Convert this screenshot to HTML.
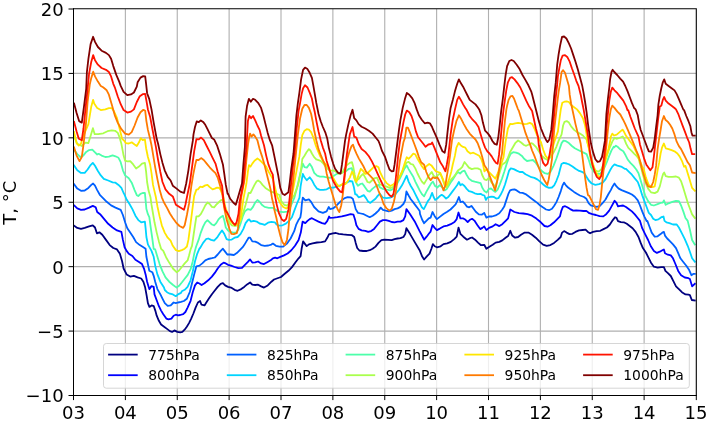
<!DOCTYPE html><html><head><meta charset="utf-8"><title>T, °C</title>
<style>html,body{margin:0;padding:0;background:#fff}svg{display:block}text{font-family:"DejaVu Sans","Liberation Sans",sans-serif;fill:#000}</style></head><body>
<svg width="708" height="422" viewBox="0 0 708 422">
<rect width="708" height="422" fill="#fff"/>
<path d="M125.38 9.0V395.5M177.25 9.0V395.5M229.12 9.0V395.5M281.00 9.0V395.5M332.88 9.0V395.5M384.75 9.0V395.5M436.62 9.0V395.5M488.50 9.0V395.5M540.38 9.0V395.5M592.25 9.0V395.5M644.12 9.0V395.5M73.5 73.42H696.0M73.5 137.83H696.0M73.5 202.25H696.0M73.5 266.67H696.0M73.5 331.08H696.0" stroke="#b0b0b0" stroke-width="1.11" fill="none"/>
<defs><clipPath id="c"><rect x="73.5" y="9.0" width="622.5" height="386.5"/></clipPath></defs>
<g clip-path="url(#c)" fill="none" stroke-width="1.8" stroke-linejoin="round" stroke-linecap="square">
<polyline stroke="#000080" points="74.1,225.7 77.3,227.9 81.0,228.9 84.7,227.9 89.1,226.4 92.8,225.3 95.0,227.5 96.9,233.3 99.4,232.3 102.3,234.8 106.0,239.9 109.7,245.1 113.3,248.0 117.0,249.4 119.9,253.8 122.1,261.2 123.6,268.5 126.6,274.4 130.2,276.6 133.9,275.8 137.6,277.3 141.2,278.5 143.4,281.7 145.2,287.6 146.7,295.9 147.9,303.2 149.4,306.9 151.6,305.4 153.8,306.2 155.3,310.6 156.7,315.7 158.9,320.8 161.1,324.5 164.1,326.7 167.0,328.9 169.9,331.1 172.1,331.9 174.4,330.4 177.3,331.9 180.2,332.3 182.4,331.9 184.6,329.7 186.8,326.7 189.0,323.1 191.2,318.6 193.4,313.5 195.6,307.6 197.9,302.5 200.1,301.0 201.5,304.7 204.5,305.4 206.0,303.0 208.9,298.6 211.9,294.2 214.8,290.5 217.7,286.9 220.7,283.9 222.9,283.2 225.1,285.4 228.0,286.9 231.0,287.6 234.6,289.8 237.6,290.8 241.2,289.1 244.2,286.9 247.1,284.4 250.1,282.5 252.3,284.7 255.2,285.0 258.1,284.7 261.1,286.4 264.0,287.6 267.7,285.4 271.4,281.7 274.0,279.5 281.0,277.0 284.7,273.8 288.4,270.8 292.0,267.1 295.7,262.0 298.6,258.3 300.6,256.1 301.6,248.8 303.1,241.4 305.3,244.4 306.7,246.1 308.9,244.4 312.6,243.4 317.0,242.5 321.4,242.2 325.1,241.4 327.3,237.8 329.1,234.1 330.0,234.1 332.9,233.3 335.9,233.0 338.8,233.8 343.2,234.4 347.6,234.8 352.0,235.2 354.2,237.0 355.7,242.9 357.2,248.0 359.4,250.5 363.1,251.0 366.7,251.0 369.7,250.2 372.6,248.8 375.5,246.6 378.5,242.9 381.4,240.2 384.4,239.6 388.0,239.9 391.7,240.2 394.6,239.2 397.6,238.5 400.5,238.2 403.4,237.0 405.2,234.1 406.4,228.2 410.1,234.1 415.2,242.9 419.6,250.2 422.2,256.6 424.1,259.5 426.6,256.6 429.5,253.6 431.5,248.5 432.9,244.1 434.7,246.3 436.9,247.3 440.6,246.3 443.5,244.1 447.2,243.3 450.8,241.9 454.5,238.9 456.7,236.7 458.5,227.6 460.4,233.8 463.3,236.7 467.0,239.7 469.9,238.2 472.1,237.5 475.1,239.7 478.0,242.6 481.0,245.2 484.2,244.8 486.4,248.8 489.0,247.0 492.7,244.8 495.6,242.6 499.3,241.9 502.3,240.4 505.9,237.5 508.1,236.0 510.3,230.8 512.2,235.5 515.1,237.7 518.1,237.0 521.0,234.8 524.7,232.6 528.4,232.6 532.0,234.8 535.7,237.7 539.4,241.4 543.1,244.6 546.7,245.8 550.4,245.1 554.1,242.9 557.7,239.9 560.7,237.0 562.1,232.6 564.1,231.1 566.6,232.6 569.5,234.1 572.4,233.8 575.4,231.9 579.0,230.4 582.7,230.0 585.6,229.7 587.9,231.9 590.1,233.3 593.0,231.9 596.7,231.1 600.3,230.8 604.0,228.9 606.9,227.5 609.9,224.5 612.8,220.1 615.0,217.2 616.5,217.9 618.0,221.2 620.9,222.1 623.8,222.3 626.8,223.8 629.7,226.0 632.6,228.2 635.6,231.9 638.5,237.0 640.7,242.9 642.9,248.1 645.9,252.5 648.1,256.9 651.0,262.7 653.9,266.7 657.6,267.6 661.3,267.2 663.9,267.2 665.4,270.9 667.9,273.1 670.8,276.0 673.0,280.4 676.0,286.3 678.9,289.2 681.9,292.2 685.5,294.4 688.5,294.7 689.9,295.1 691.8,300.0 694.8,300.5"/>
<polyline stroke="#0000ff" points="74.1,205.4 77.3,208.4 81.0,209.8 84.7,209.5 89.1,207.6 92.8,205.9 95.7,207.3 97.2,212.0 100.1,214.2 103.8,218.6 108.2,223.8 112.6,227.5 117.0,230.4 121.4,231.9 122.9,239.9 124.6,247.3 126.6,250.9 128.8,253.8 132.4,256.0 135.4,259.7 139.0,261.9 142.0,264.1 144.2,269.2 145.6,274.4 147.1,281.7 149.3,289.1 151.5,286.1 153.7,286.9 154.5,294.4 156.7,300.3 158.9,306.2 161.1,310.6 163.3,314.2 166.3,318.6 168.5,319.4 171.4,318.6 173.6,315.7 175.8,314.7 178.0,315.3 180.2,315.0 183.2,314.2 185.4,312.0 187.6,307.6 190.6,300.8 192.8,292.0 195.0,285.4 197.2,282.5 199.4,283.5 201.6,285.0 204.5,283.2 208.2,280.3 211.9,276.6 214.8,272.9 217.7,268.5 220.7,264.8 223.6,262.6 225.8,263.4 228.0,264.8 231.0,265.6 234.6,267.0 238.3,268.1 242.0,267.8 244.9,264.8 247.9,261.9 250.1,259.4 252.3,262.6 255.2,262.3 258.1,261.5 261.1,263.4 264.0,264.1 267.7,261.9 271.4,259.7 272.9,258.3 275.1,257.6 277.3,258.3 280.3,256.9 284.0,255.4 287.6,253.5 291.3,250.3 295.0,245.8 298.6,240.0 300.8,232.6 302.6,221.6 305.3,223.1 307.5,220.9 309.7,219.1 311.9,218.2 314.8,219.7 318.5,221.6 322.1,223.1 325.1,223.8 327.3,220.9 329.1,216.5 330.0,217.9 333.7,217.6 337.3,217.2 341.8,216.4 346.2,215.3 350.6,214.2 353.5,214.7 355.0,219.4 356.4,225.3 358.6,228.9 361.6,230.4 365.3,230.8 368.2,231.9 371.1,231.1 374.1,228.9 377.0,225.3 379.9,221.6 382.9,220.1 385.8,220.1 388.8,220.8 391.7,222.0 394.6,222.3 397.6,221.6 400.5,221.6 403.4,220.1 405.2,216.4 406.4,209.1 410.1,214.2 415.2,222.3 419.6,231.1 422.2,236.0 424.1,239.7 426.6,236.7 428.8,233.8 430.6,231.6 432.5,225.0 434.7,227.9 436.9,230.1 439.8,228.6 443.5,226.4 447.2,225.7 450.8,224.2 454.5,222.0 456.7,219.1 458.5,212.5 460.4,218.4 463.3,218.4 465.5,219.8 467.7,222.0 469.9,219.8 472.1,218.8 474.4,220.6 477.3,225.0 480.2,229.1 482.4,227.9 484.2,226.4 486.4,230.1 489.0,227.9 492.7,226.4 495.6,224.2 499.3,226.1 502.3,224.2 505.9,220.6 508.1,218.4 510.3,209.5 514.4,212.0 518.8,213.2 523.2,213.5 527.6,214.2 532.0,215.7 536.4,218.6 540.8,222.3 544.5,226.0 547.5,226.7 550.4,225.3 554.1,222.3 557.0,219.4 559.9,216.4 561.4,210.6 562.9,206.9 565.1,206.2 567.3,207.3 570.2,209.1 573.2,210.6 576.1,210.3 579.8,210.6 583.4,211.0 586.4,210.9 589.3,213.2 592.3,214.2 595.9,215.0 599.6,216.1 603.3,216.4 606.2,214.2 609.2,210.6 612.1,205.4 614.6,200.8 616.5,202.9 618.0,206.3 620.2,205.8 623.1,205.5 626.0,207.0 629.0,209.2 631.9,211.4 634.8,214.4 637.1,217.3 640.0,220.9 642.2,228.2 645.1,234.1 648.1,240.0 651.0,246.6 653.9,251.0 656.9,252.9 659.8,251.7 662.8,250.0 663.9,249.5 665.0,253.2 667.9,254.7 670.8,255.4 673.0,258.3 675.2,263.5 678.2,270.9 681.1,275.3 684.8,277.5 688.5,278.2 689.9,279.0 692.1,286.3 694.8,283.8"/>
<polyline stroke="#0060ff" points="74.1,184.2 77.3,188.6 81.0,190.8 84.7,190.5 88.4,187.9 91.3,184.9 93.1,183.5 95.0,185.7 97.2,190.1 100.1,195.2 102.3,197.3 106.7,201.8 111.1,205.4 115.5,207.6 120.7,209.8 122.9,215.0 125.1,222.3 127.3,228.2 130.2,232.6 133.2,237.0 136.1,242.1 139.8,245.1 143.4,247.3 145.6,248.8 146.4,256.8 147.9,264.1 149.3,270.7 152.3,272.2 153.7,275.8 155.2,281.7 157.4,289.1 160.4,294.4 162.6,298.8 164.8,303.2 167.7,305.9 170.7,305.4 173.6,302.5 175.8,303.2 178.0,302.5 181.0,301.8 183.9,301.0 186.8,298.8 189.8,292.0 192.0,283.2 194.2,274.4 196.4,266.3 199.4,265.6 202.3,263.4 205.3,260.4 208.2,259.0 211.9,258.2 214.8,257.5 217.7,254.5 220.7,250.9 222.9,248.7 225.1,251.6 227.3,254.5 230.2,254.5 233.9,255.0 236.8,253.1 239.8,250.1 242.7,247.2 244.2,245.1 246.4,241.4 248.6,237.7 250.1,237.7 252.3,241.4 255.2,241.7 258.1,242.9 261.1,245.1 264.7,245.8 268.4,245.5 271.4,244.6 272.9,243.6 275.9,245.8 279.5,246.6 283.2,246.6 286.9,243.6 290.6,238.5 294.2,231.2 296.1,224.9 298.7,219.7 300.4,217.2 301.2,212.1 301.9,203.5 302.8,197.6 305.3,200.4 308.9,199.4 311.1,201.9 314.1,207.0 318.5,211.4 322.9,212.9 326.6,211.4 328.8,207.0 330.0,209.1 332.9,208.4 335.9,206.2 338.8,203.2 341.8,200.3 344.7,198.1 347.6,197.1 350.6,197.3 352.8,198.8 354.2,203.2 355.7,209.1 357.9,212.8 360.8,213.5 363.8,214.2 366.7,215.7 369.7,217.2 372.6,215.7 375.5,213.5 378.5,210.6 380.7,207.6 382.9,209.8 385.8,210.6 388.8,211.3 391.7,210.6 394.6,209.1 397.6,208.4 400.5,206.9 403.4,204.0 405.2,200.3 406.4,191.5 408.6,195.5 410.8,199.2 413.1,202.1 415.3,205.1 417.5,208.0 419.7,211.0 420.0,214.0 422.2,219.8 424.1,223.2 426.6,220.6 428.8,218.4 430.6,217.6 432.5,212.0 434.7,216.2 436.9,219.1 439.8,216.9 443.5,214.0 447.2,211.8 450.5,209.5 453.4,206.6 455.6,204.4 457.1,201.4 458.9,197.0 460.5,202.1 462.6,201.5 464.8,203.7 467.0,206.6 469.2,207.3 471.4,205.9 473.6,208.8 475.8,211.8 478.8,214.4 481.7,214.7 484.2,212.9 486.4,217.6 489.0,216.5 492.0,216.5 495.6,215.4 499.3,213.2 502.3,209.5 504.2,206.6 506.4,199.9 508.6,193.3 510.1,190.4 512.3,189.7 514.5,189.4 516.7,190.4 519.7,192.6 522.6,192.9 525.5,194.1 528.5,196.3 531.4,198.5 534.4,200.7 537.3,202.9 540.2,205.5 543.2,207.6 546.1,209.5 549.0,210.2 552.0,208.8 554.2,205.8 556.4,202.1 558.6,197.0 560.8,191.1 562.6,185.3 564.0,182.6 565.9,185.3 568.1,187.5 571.1,189.7 574.0,191.9 576.9,193.8 579.9,195.5 584.0,197.0 586.4,198.8 588.6,203.2 590.8,205.4 593.7,206.2 596.7,206.9 599.6,206.2 602.5,203.2 605.5,199.5 608.6,193.8 610.8,190.1 612.6,186.4 614.5,183.5 616.5,186.4 618.7,188.6 621.6,190.1 625.3,191.6 629.0,193.1 631.9,194.5 634.8,196.7 637.8,200.4 640.0,205.5 642.2,211.4 644.4,216.6 646.6,221.0 647.3,220.9 649.5,226.8 651.7,232.6 654.7,236.7 657.6,236.3 660.6,234.1 662.8,232.3 663.9,231.9 665.0,235.6 667.2,238.5 670.1,241.4 673.0,244.4 676.0,248.1 678.2,253.2 680.4,258.3 683.3,262.0 686.3,265.7 689.2,270.1 691.4,275.2 693.6,273.8 694.8,273.8"/>
<polyline stroke="#00d4ff" points="74.1,165.6 77.3,170.3 81.0,172.9 84.7,172.9 87.6,169.5 90.6,165.1 92.8,162.9 95.0,165.8 97.9,171.0 100.8,175.4 103.8,178.8 108.2,180.5 112.6,182.3 115.5,182.7 118.5,184.9 121.4,187.9 123.6,193.0 124.4,194.4 126.6,199.5 129.5,204.0 132.4,209.1 135.4,215.7 138.3,220.1 141.2,222.3 144.9,221.6 145.6,228.2 146.4,237.0 147.9,244.4 151.5,250.9 153.7,256.8 155.2,265.6 157.4,274.4 160.3,281.7 164.0,287.6 164.8,290.0 167.0,292.2 169.9,293.7 172.9,294.4 175.8,296.2 178.0,294.4 181.0,292.9 181.8,291.3 184.7,289.8 187.6,286.9 190.6,280.3 192.8,271.4 195.0,261.2 197.2,253.8 199.4,248.7 200.1,248.0 203.1,242.9 206.0,239.2 208.2,238.5 211.1,239.9 214.1,240.7 217.0,237.7 219.9,233.3 222.1,230.4 224.4,234.1 226.6,239.2 228.8,239.9 231.7,239.6 234.6,237.7 237.6,237.0 240.5,234.1 243.4,228.9 245.6,223.1 247.9,220.1 249.3,219.4 250.8,221.6 253.7,220.8 256.7,221.6 259.6,223.5 262.5,224.1 264.6,224.9 268.0,222.7 271.4,221.9 274.8,222.3 276.5,224.4 279.1,225.7 282.5,225.3 285.9,223.6 289.3,220.6 291.9,217.2 294.4,210.4 297.0,203.5 299.5,197.6 300.6,186.4 302.8,173.9 304.5,177.3 306.8,180.2 309.7,177.3 311.9,180.2 314.2,184.7 317.1,188.7 319.9,189.8 323.3,189.8 326.7,189.3 329.6,187.6 333.6,187.6 337.0,186.4 340.4,185.3 343.8,184.1 347.2,182.4 349.5,181.0 352.3,181.3 354.0,187.6 355.2,194.4 356.4,194.4 358.6,197.3 360.8,196.6 363.8,195.1 366.0,198.1 368.2,201.8 370.4,202.9 372.6,201.0 375.5,198.8 377.7,195.9 379.9,193.7 382.9,197.7 386.6,198.2 390.3,197.7 393.2,196.3 396.2,193.3 399.1,189.7 402.0,185.3 404.2,180.8 406.7,175.7 408.6,181.6 410.8,186.0 413.1,189.7 415.3,194.1 417.5,198.5 419.7,202.9 421.9,207.3 423.8,209.1 425.5,205.8 427.7,201.4 429.9,198.5 432.1,192.9 433.6,197.0 435.1,199.9 437.3,198.5 439.5,196.3 441.7,194.8 443.9,196.3 446.1,198.5 448.3,197.0 450.5,194.1 452.7,191.1 454.9,188.2 457.1,185.3 458.9,182.0 460.5,185.3 462.3,184.1 464.5,186.0 466.7,188.9 468.9,191.1 471.8,191.9 474.7,193.3 477.7,194.1 480.6,193.8 482.2,194.8 484.4,195.5 485.9,199.9 487.3,197.7 489.5,197.0 491.8,196.7 494.0,197.0 496.2,198.5 498.4,198.2 500.6,194.8 502.8,190.4 505.0,184.5 507.2,177.2 509.1,170.6 510.8,168.4 513.8,169.1 516.7,170.6 519.7,172.0 522.6,172.0 525.5,174.2 528.5,175.7 531.4,177.2 534.4,177.9 537.3,179.4 540.2,181.6 543.2,184.5 546.1,186.7 549.0,187.9 552.0,187.5 554.2,185.3 556.4,180.8 558.6,175.0 560.1,169.1 561.5,164.0 563.7,162.9 566.7,163.5 569.6,164.7 572.5,166.5 575.5,168.8 578.4,170.6 581.4,171.7 584.0,172.8 586.6,176.9 588.8,180.5 591.7,183.5 595.4,184.9 599.0,184.2 602.7,182.7 605.6,179.1 607.9,174.7 610.1,170.3 612.3,166.6 614.5,164.4 617.4,165.6 621.1,166.6 624.7,168.8 626.0,168.8 629.0,171.8 631.9,174.7 634.8,178.4 637.8,182.0 640.0,187.9 642.2,195.3 644.4,201.1 646.6,207.0 648.8,212.9 651.0,215.0 653.2,218.7 655.4,220.1 658.4,219.4 661.3,217.2 663.5,216.5 664.5,220.9 666.4,222.3 669.4,223.1 673.0,224.5 676.7,224.5 678.9,227.5 681.9,233.4 684.8,239.2 687.7,245.8 689.9,251.7 692.1,258.3 694.8,261.7"/>
<polyline stroke="#4dffaa" points="74.1,149.7 77.3,154.1 80.3,157.0 83.2,155.6 86.2,151.9 89.1,150.1 92.3,149.7 95.0,152.3 97.2,154.5 98.6,153.8 101.6,155.6 105.3,157.0 108.9,156.7 112.6,155.3 115.5,156.3 118.5,157.8 120.7,162.2 122.9,170.3 125.1,175.4 128.8,178.3 131.7,182.7 134.6,190.1 136.8,195.2 138.3,196.0 140.5,193.8 142.7,193.0 144.9,193.0 145.6,200.3 146.4,209.1 147.9,214.2 149.3,217.2 150.8,228.2 152.3,238.5 153.7,248.8 155.2,249.4 157.4,256.8 159.6,264.1 162.5,271.4 165.5,277.3 169.2,281.7 172.8,284.7 176.6,287.6 178.8,286.1 181.8,282.5 184.7,278.8 187.6,275.1 190.6,269.2 192.8,261.2 194.2,253.8 195.7,247.9 196.4,245.8 198.6,239.9 200.8,232.6 203.1,226.7 205.3,222.3 207.5,220.1 209.7,222.3 211.9,224.5 214.1,225.3 216.3,223.1 218.5,219.4 220.7,217.2 222.9,215.7 224.4,220.8 225.8,227.5 228.0,230.4 230.2,231.9 233.2,232.6 236.1,232.6 238.3,229.7 240.5,223.8 242.7,216.4 244.9,211.3 247.9,209.1 250.8,209.8 253.0,206.9 255.2,202.5 257.4,200.0 259.6,201.8 261.8,204.7 264.6,206.9 268.8,207.8 273.1,207.8 275.7,209.9 279.1,211.6 283.3,212.1 287.6,211.6 289.3,209.5 291.9,203.5 294.4,197.6 297.1,187.6 299.4,177.3 302.8,163.7 304.5,167.1 306.8,167.6 309.7,163.7 311.9,167.1 314.2,172.8 317.1,175.6 319.9,176.7 323.3,176.7 326.7,177.3 330.1,177.9 332.4,176.7 335.8,174.5 339.2,172.8 342.7,172.2 346.1,171.1 348.9,168.8 351.8,168.2 353.5,174.7 355.7,182.0 357.9,185.7 360.1,184.2 362.3,183.5 364.5,186.4 367.5,190.8 369.7,191.6 372.6,188.6 375.5,186.4 378.5,184.9 380.0,187.5 382.9,188.9 386.6,189.7 390.3,190.4 393.2,188.9 396.2,185.3 399.1,180.1 402.0,174.2 404.2,169.1 406.7,165.4 408.6,169.1 410.8,172.8 413.1,176.4 415.3,181.6 417.5,186.0 419.7,190.4 421.9,194.1 424.1,196.3 426.3,191.9 429.2,186.7 431.4,183.1 432.9,181.6 435.1,186.0 437.3,187.5 439.5,185.3 441.7,186.7 444.6,190.4 446.8,188.9 449.0,185.3 451.2,181.6 453.4,178.6 455.6,175.0 457.9,172.0 460.1,173.5 462.3,171.3 464.5,170.6 466.7,175.0 468.9,178.6 471.8,180.8 474.7,181.6 477.7,182.3 480.6,183.1 482.2,187.5 484.4,191.1 486.6,192.6 488.8,188.9 491.0,188.5 493.2,190.4 495.4,191.9 497.6,189.7 499.8,184.5 502.0,178.6 504.2,172.0 506.4,164.7 508.6,158.1 510.8,153.7 513.1,152.2 516.0,152.6 518.9,153.7 521.9,155.9 524.1,158.8 527.0,161.0 530.7,160.3 532.9,160.0 535.9,162.9 538.8,167.3 541.8,171.0 544.7,173.2 547.6,173.9 550.6,171.7 553.5,165.8 556.4,158.5 559.4,149.7 561.6,143.1 563.5,140.6 566.0,141.2 568.9,143.1 571.9,146.0 574.8,148.2 577.7,149.7 580.7,151.2 583.6,152.6 586.6,154.1 588.8,160.0 591.0,167.3 593.9,171.7 596.8,173.9 599.8,173.9 602.7,171.0 604.9,166.6 607.1,161.4 609.3,155.6 611.5,150.4 613.7,146.8 614.2,147.3 615.9,145.6 618.2,147.3 620.5,149.6 623.3,151.3 625.6,155.3 627.9,159.8 630.4,162.9 633.4,165.9 636.3,169.5 638.5,173.2 640.7,180.6 642.9,187.9 645.1,195.3 648.1,201.1 651.0,204.8 653.9,205.5 657.6,204.1 660.6,202.9 662.8,202.6 663.9,200.4 665.7,204.8 668.6,203.3 672.3,201.9 676.0,200.8 678.9,201.1 681.1,205.5 683.3,211.4 685.5,218.0 687.7,220.9 689.9,229.7 692.1,240.0 694.8,244.4"/>
<polyline stroke="#aaff4d" points="74.1,136.5 77.3,143.8 81.8,146.0 84.7,143.1 85.8,142.7 88.3,143.2 90.5,136.3 92.9,128.2 94.7,134.2 98.2,134.2 103.3,133.3 107.5,131.2 111.8,130.4 115.2,130.8 117.8,132.9 119.5,137.2 121.4,143.8 123.6,155.6 125.1,160.7 127.3,161.4 130.2,161.1 133.2,164.4 136.1,168.5 139.0,166.6 142.0,163.6 144.9,162.9 146.1,171.7 147.1,182.0 148.6,190.8 150.5,197.3 151.5,204.7 153.0,213.5 154.5,222.3 156.7,232.6 158.9,241.4 161.1,248.8 163.3,250.9 166.2,257.5 169.2,262.6 172.1,267.0 172.9,268.5 176.6,272.2 178.8,270.7 181.8,267.0 184.7,263.4 187.6,260.4 189.1,255.3 190.6,249.4 192.0,245.8 193.5,235.5 195.0,225.3 196.4,216.4 198.6,216.4 200.8,214.2 203.1,209.8 205.3,205.4 207.5,202.5 209.7,204.0 211.9,206.9 214.1,207.3 216.3,204.7 218.5,202.5 220.7,200.3 222.9,199.5 224.4,206.2 226.6,215.7 228.8,221.6 231.7,225.3 234.6,226.0 237.6,225.3 240.5,220.8 243.4,212.0 245.6,204.7 247.9,195.9 248.6,193.0 250.5,193.0 252.3,189.4 254.5,184.9 256.7,181.3 258.1,180.5 260.3,182.0 262.5,184.9 265.4,187.9 270.5,191.3 273.9,192.6 279.5,195.0 281.2,201.0 284.2,204.8 287.2,205.7 289.3,202.7 291.9,198.4 294.4,195.0 298.3,184.1 300.6,172.8 302.3,159.1 304.5,155.7 306.7,152.0 308.9,149.1 310.4,150.5 311.9,153.5 314.1,157.1 316.3,159.4 318.5,160.1 320.7,160.8 322.9,163.0 325.1,166.0 330.0,171.0 332.9,170.3 335.9,171.7 338.8,173.9 341.8,173.2 344.0,169.5 346.9,165.1 349.8,162.9 352.0,162.2 353.2,166.6 354.7,174.7 356.4,180.5 358.6,179.1 360.8,176.1 363.1,173.9 365.3,177.6 367.5,182.0 369.7,182.7 371.9,180.5 374.1,178.3 377.0,177.6 380.0,184.5 382.9,185.3 386.6,186.7 390.3,188.2 393.2,186.7 396.2,183.1 399.1,177.9 402.0,172.0 404.2,166.9 406.7,162.5 408.6,161.8 410.8,164.0 413.1,164.7 415.3,168.4 417.5,173.5 419.7,177.9 421.9,181.6 424.1,183.8 426.3,180.1 429.2,175.0 431.7,172.0 433.6,175.7 435.8,177.2 438.0,175.0 440.2,173.5 442.4,178.6 444.6,185.3 446.8,187.5 449.0,183.1 451.2,179.4 453.4,177.2 455.6,174.2 457.9,170.6 460.1,169.1 462.3,166.9 464.5,162.0 466.7,164.7 468.9,167.6 471.8,169.1 474.7,168.4 477.7,168.4 480.6,169.8 482.2,175.0 484.4,179.4 486.6,180.1 488.8,177.9 491.0,181.6 493.2,184.5 495.4,186.7 497.6,179.4 499.8,172.0 502.0,164.7 505.6,162.3 507.9,157.9 510.1,152.0 512.3,148.3 515.2,143.2 518.1,140.5 521.1,142.5 524.0,145.0 526.2,145.8 528.4,144.7 531.4,143.2 532.9,143.8 535.9,146.8 538.8,151.2 541.8,155.6 544.7,158.5 547.6,160.0 550.6,157.0 553.5,152.6 556.4,146.8 558.6,140.9 561.6,134.4 563.1,125.5 564.5,121.9 566.7,121.1 568.9,122.6 571.1,126.3 574.1,129.9 577.0,132.1 579.9,133.6 582.9,135.5 585.1,138.0 586.6,139.4 588.8,146.8 590.2,157.0 592.4,165.8 595.4,170.3 598.3,171.7 601.2,169.5 603.4,164.4 605.6,158.5 607.9,152.6 610.1,146.8 612.3,141.6 614.5,137.9 616.5,138.8 619.3,138.0 622.7,136.5 624.4,139.3 626.2,143.9 628.4,147.9 631.3,150.7 634.1,153.6 637.0,156.4 638.7,158.7 639.8,163.2 641.0,167.1 642.9,174.7 645.1,182.0 648.1,188.6 651.0,192.3 654.7,193.1 657.6,191.6 659.8,186.4 661.6,179.1 663.1,174.0 664.2,172.5 665.7,176.2 668.6,176.9 672.3,176.9 676.0,176.5 678.9,177.6 681.1,181.3 683.3,187.9 685.5,195.3 687.7,202.6 689.9,208.5 692.1,214.4 694.8,218.0"/>
<polyline stroke="#ffe600" points="74.1,132.1 76.6,143.1 78.8,145.6 81.0,143.8 82.5,137.9 88.4,124.1 91.3,106.4 93.1,99.8 94.2,103.5 97.2,107.9 100.8,110.1 105.3,109.4 108.9,108.2 111.9,108.2 114.1,111.6 117.0,118.2 119.9,129.9 122.1,138.8 124.4,140.9 125.8,143.1 128.8,143.5 131.7,142.3 134.6,144.5 136.8,146.0 139.0,142.3 140.8,138.2 142.7,140.1 144.9,139.4 146.1,148.2 147.9,157.0 150.1,164.4 151.5,173.2 153.0,184.9 155.9,197.3 157.4,206.2 159.6,216.4 161.8,225.3 164.7,232.6 167.7,237.7 170.6,240.7 172.8,245.8 175.9,250.1 178.8,251.2 181.8,250.1 184.7,248.7 186.9,246.5 188.4,239.9 189.8,229.7 191.3,217.9 192.8,206.2 194.2,195.9 196.4,189.6 197.9,189.4 200.1,186.7 202.3,187.1 205.3,185.4 207.5,184.9 209.7,187.1 212.6,189.4 214.8,188.6 217.0,187.6 219.2,187.9 220.7,190.1 222.1,193.8 223.2,195.9 225.1,206.2 228.0,215.0 231.0,221.6 233.9,224.5 236.8,224.5 239.0,223.1 240.5,219.4 242.0,209.1 243.4,198.8 246.4,183.5 247.9,171.7 249.0,165.1 250.5,166.6 252.3,163.6 254.5,160.7 257.4,158.5 259.6,160.0 261.8,162.2 264.0,164.4 266.2,166.6 267.7,170.3 269.9,173.9 272.1,177.6 272.9,179.1 275.1,187.9 277.3,196.7 280.3,203.3 283.2,207.0 286.2,208.5 288.4,207.0 290.6,201.1 292.8,190.8 295.0,179.1 297.2,167.3 299.4,156.4 300.8,144.7 302.3,135.1 304.5,130.7 306.7,129.2 308.9,129.7 311.1,132.2 313.3,137.3 315.5,144.7 317.7,150.5 319.9,155.7 322.1,159.4 324.4,163.0 328.8,167.3 331.0,174.0 333.9,179.1 336.8,184.2 339.0,186.4 343.2,183.5 345.4,184.2 347.6,181.3 349.8,177.6 352.0,171.7 353.2,173.2 354.7,179.1 356.4,182.0 358.6,174.7 360.8,168.8 363.1,171.0 365.3,173.9 367.5,173.2 369.7,171.0 371.9,168.8 374.1,166.6 376.3,166.1 378.5,167.3 380.0,172.0 382.9,177.9 386.6,183.1 390.3,186.0 393.2,184.5 396.2,181.6 399.1,177.9 402.0,172.0 404.2,164.7 406.7,157.3 408.6,158.8 410.8,156.6 413.1,153.7 415.3,154.4 417.5,158.8 419.7,162.5 421.9,166.2 424.1,169.1 426.3,166.2 429.2,164.0 431.4,165.4 433.6,168.4 435.8,171.3 438.0,172.0 440.2,172.8 442.4,177.9 444.6,183.8 446.8,185.3 449.0,179.4 451.2,172.0 452.7,164.7 454.9,155.9 456.4,147.6 458.6,142.9 460.8,145.4 463.1,146.9 465.3,147.6 467.5,151.3 470.4,153.5 473.3,152.7 476.3,154.2 479.2,155.7 481.4,159.4 482.9,163.8 484.4,171.3 486.6,169.1 488.8,172.0 491.0,174.2 493.2,176.4 495.4,178.6 497.6,173.5 499.8,167.6 502.0,161.8 503.5,157.3 504.2,152.0 505.6,141.7 507.9,128.5 510.1,123.8 512.3,124.1 515.2,123.4 518.1,122.9 521.1,123.4 524.0,124.1 526.9,123.8 529.9,122.9 532.2,124.1 534.4,128.5 537.3,135.8 541.0,142.3 543.2,149.7 545.4,155.6 547.6,158.5 549.8,155.6 552.0,149.7 554.2,142.3 557.9,131.4 559.4,119.7 560.8,109.4 562.3,102.8 564.5,101.7 566.7,101.3 568.9,102.0 571.1,105.0 574.1,107.2 577.0,109.4 579.9,113.1 582.9,118.2 585.1,125.5 586.6,134.4 587.3,142.3 589.5,151.2 591.7,160.0 594.6,168.8 597.6,175.4 599.8,176.9 602.0,173.2 604.2,165.8 606.4,157.0 608.6,148.2 610.5,139.4 610.8,136.6 612.3,133.6 614.0,135.5 616.7,134.6 619.6,132.1 622.5,129.6 623.8,131.4 626.0,135.8 628.2,138.8 630.4,141.7 633.4,146.1 636.3,152.0 639.3,159.4 642.2,166.7 643.7,168.8 645.9,177.6 648.8,185.0 652.5,187.2 654.7,186.4 656.1,179.1 657.6,170.3 659.1,162.9 660.6,153.5 662.0,147.6 663.9,143.5 665.7,148.3 668.6,149.1 671.6,150.2 674.5,151.3 677.4,153.5 679.6,156.4 681.9,160.8 684.1,166.7 685.5,165.9 687.7,173.2 689.9,180.6 692.1,187.9 694.8,190.8"/>
<polyline stroke="#ff7a00" points="74.1,147.5 76.6,155.6 79.5,161.1 81.8,157.0 83.2,146.8 85.9,124.1 87.6,102.0 89.8,84.4 91.3,77.9 93.2,71.7 95.0,76.4 97.9,81.6 100.8,86.0 103.1,87.3 106.7,90.3 108.9,94.7 111.9,105.0 114.8,115.3 117.7,122.6 121.4,129.2 125.1,133.6 128.8,134.6 131.7,132.1 134.6,125.5 137.6,117.5 140.5,112.3 143.4,109.8 145.2,110.8 146.4,121.1 147.9,129.9 150.1,138.8 151.5,145.3 153.0,154.1 155.2,167.3 157.4,179.1 159.6,189.4 161.8,197.3 164.0,202.5 166.9,207.6 169.9,213.5 172.8,217.9 175.9,222.3 179.5,226.0 183.2,227.9 184.7,225.3 186.9,215.0 189.1,203.2 191.3,186.4 193.5,173.2 195.3,164.4 196.4,160.0 198.6,160.0 201.1,158.1 203.8,160.0 206.7,163.6 209.7,167.3 212.6,170.3 215.5,173.2 217.7,177.6 219.9,184.9 222.1,192.3 224.2,207.8 226.6,219.5 229.5,229.1 231.3,233.8 233.9,234.1 236.7,233.2 237.9,228.9 239.0,219.5 240.2,207.8 241.2,197.3 244.6,179.1 246.4,160.0 248.1,143.8 249.3,136.5 250.1,133.6 251.5,136.6 253.4,134.4 255.2,136.6 257.4,140.2 259.6,149.0 261.8,155.6 264.0,162.9 266.2,171.7 268.4,180.5 270.6,189.4 272.1,198.8 274.0,206.2 274.4,209.9 276.6,218.8 278.1,226.8 280.3,235.6 282.5,242.2 284.7,245.1 286.9,240.0 288.4,229.7 289.8,212.9 291.3,199.7 292.8,185.0 294.2,170.3 296.1,152.0 297.9,134.4 300.1,118.2 302.3,108.7 304.5,105.0 306.7,105.0 308.9,107.9 311.1,113.8 312.6,121.2 314.1,130.0 316.3,140.3 318.5,149.1 320.7,154.9 322.9,160.1 325.1,165.2 326.6,173.2 328.8,182.0 331.0,189.4 333.2,196.7 335.4,204.1 337.6,209.2 339.3,212.1 341.2,205.5 342.7,195.3 344.2,182.0 345.6,168.8 347.1,159.4 349.3,152.0 351.5,146.1 353.0,144.7 354.5,149.1 356.7,154.2 358.9,158.6 361.1,162.3 363.3,166.0 366.0,171.7 369.7,175.4 373.3,179.1 376.3,184.9 378.5,190.8 380.7,196.0 381.4,197.3 383.6,204.0 386.6,208.4 389.5,210.6 391.7,208.8 393.9,201.8 395.4,194.4 396.8,184.9 398.3,173.2 399.8,161.4 402.0,149.7 403.4,142.3 404.9,137.9 406.4,127.7 407.9,127.7 410.1,132.9 412.3,138.8 414.5,144.5 416.7,150.4 418.9,157.0 421.1,162.2 424.1,164.7 426.3,172.0 428.5,177.2 430.7,180.1 432.9,177.2 435.1,178.2 437.3,177.2 439.5,180.8 441.7,185.3 443.5,190.4 445.4,185.3 446.8,176.4 448.3,167.6 449.8,157.3 452.0,140.3 454.2,130.0 456.4,121.2 458.9,115.3 460.8,118.2 463.8,124.1 466.7,129.2 469.7,133.6 472.6,136.6 475.5,139.5 477.7,143.2 479.9,149.1 482.1,156.4 484.4,165.2 486.6,168.4 488.8,173.5 491.0,179.4 493.2,185.3 495.1,190.4 496.9,182.3 498.8,172.0 500.6,160.3 502.0,153.5 503.4,137.3 504.9,121.2 506.4,109.4 507.1,105.8 508.6,99.9 510.5,96.3 512.3,95.8 514.0,98.5 515.9,103.6 517.8,108.8 518.9,110.9 521.1,118.2 523.3,125.6 525.5,132.9 527.7,138.8 529.9,143.9 532.1,150.5 534.4,155.9 536.6,161.8 538.8,167.6 541.7,175.0 544.6,180.8 547.3,185.0 548.7,179.4 550.5,169.1 552.0,158.8 554.2,129.9 555.7,116.7 557.2,103.5 558.6,91.8 560.1,82.9 561.6,72.0 563.1,70.2 565.0,72.7 566.7,78.6 568.9,86.0 569.7,94.7 571.1,103.5 573.3,113.8 575.5,124.1 577.7,132.9 579.9,140.2 580.7,143.8 582.1,154.1 583.6,165.8 585.1,177.6 586.6,187.9 588.0,195.2 589.3,195.9 591.5,200.3 593.7,204.7 595.9,209.1 598.1,209.8 599.6,204.7 600.8,197.3 602.0,184.9 603.4,171.7 604.9,158.5 606.4,145.3 607.9,129.9 609.3,118.2 610.8,109.4 612.3,105.7 614.5,107.9 617.4,111.6 620.3,114.5 623.1,119.7 625.3,124.1 627.5,129.2 630.4,135.8 633.4,143.2 636.3,150.5 638.5,155.7 640.0,160.8 641.5,167.3 643.7,174.7 645.9,182.0 648.1,186.4 651.0,187.2 653.2,182.0 654.7,174.7 656.1,165.9 657.6,149.1 659.1,138.8 660.6,130.0 662.0,121.2 663.9,116.0 665.4,119.7 667.9,121.9 670.1,124.8 672.3,128.5 674.5,134.4 676.7,141.7 678.9,146.1 681.1,149.1 683.3,153.5 685.5,157.9 687.7,162.3 689.9,165.2 692.1,172.5 694.8,172.9"/>
<polyline stroke="#ff1300" points="74.1,121.9 76.6,131.4 78.8,138.8 81.8,140.2 83.5,128.5 85.4,109.4 87.3,91.8 89.1,73.5 91.3,61.7 93.2,55.1 95.0,60.3 97.9,64.7 101.6,68.0 106.0,69.8 108.9,72.0 111.1,76.4 113.3,83.8 114.8,87.3 117.7,96.2 120.7,104.2 123.6,110.1 127.3,112.6 131.0,111.6 133.9,109.4 136.8,102.0 139.8,96.2 142.7,94.2 145.2,94.0 146.4,100.6 147.9,109.4 150.1,116.7 152.3,128.5 155.9,146.8 158.1,160.0 160.3,171.7 162.5,182.0 165.5,189.4 169.2,193.8 172.8,196.4 175.9,204.7 180.3,207.6 184.0,209.8 185.4,204.7 186.9,197.3 189.8,183.5 192.0,167.3 194.2,151.2 196.4,139.1 198.6,139.4 201.1,137.6 203.8,140.1 206.7,146.0 209.7,151.9 212.6,157.8 215.5,163.6 217.7,171.7 219.9,179.1 222.1,185.7 223.6,201.8 225.4,210.1 227.7,213.6 230.7,219.5 233.2,223.2 235.1,225.0 236.7,222.0 238.5,213.6 239.6,201.8 243.4,183.5 244.9,164.4 246.4,148.2 247.9,121.1 249.3,115.7 251.1,118.2 253.0,116.0 255.2,120.4 257.4,125.5 259.6,129.9 261.1,135.8 264.0,145.3 266.2,155.6 268.4,164.4 270.6,170.3 272.8,174.7 274.4,192.3 276.6,204.1 278.8,212.9 281.8,219.5 284.0,221.0 286.2,218.8 288.4,209.9 289.8,196.7 291.3,182.0 292.8,167.3 295.0,149.1 296.7,128.5 298.6,110.9 300.1,102.9 301.6,94.1 303.1,88.2 305.0,85.3 307.5,87.5 309.7,92.6 311.9,98.5 313.3,105.8 314.8,112.3 316.7,122.6 318.5,131.4 320.7,140.3 322.9,147.6 325.1,153.5 326.6,160.8 332.9,180.5 336.6,187.1 340.3,191.6 342.0,192.3 343.5,183.5 345.0,170.3 346.9,154.1 348.4,143.8 349.8,134.4 352.5,127.0 354.2,136.6 356.4,137.6 358.6,143.8 361.6,149.0 365.3,151.9 368.9,156.3 371.9,161.4 374.8,167.3 377.7,173.9 380.7,180.5 383.6,186.4 386.6,191.6 389.5,195.2 391.7,196.7 393.5,193.8 395.4,182.0 396.8,168.8 398.3,154.1 399.8,142.3 401.2,134.4 403.4,122.6 405.2,114.5 406.8,110.6 409.3,112.3 411.5,116.0 413.7,122.6 415.9,131.4 418.1,137.3 421.1,141.0 423.3,143.8 425.5,146.8 428.4,144.5 431.4,143.8 432.2,142.5 434.4,147.6 437.3,154.9 440.3,162.3 442.4,165.4 445.4,171.3 446.8,164.7 448.3,155.9 450.6,134.4 452.8,119.7 455.0,109.4 457.2,99.9 458.9,96.7 460.8,99.9 463.1,104.4 465.3,108.0 466.7,110.1 469.7,116.0 472.6,119.7 475.5,122.6 478.5,127.0 480.7,134.4 482.9,141.7 485.1,147.6 487.3,151.3 489.5,153.5 491.7,156.4 493.9,160.1 496.1,163.0 497.6,163.8 499.0,154.9 500.5,140.3 502.0,124.1 503.4,110.9 504.9,99.9 506.4,89.7 507.9,82.3 510.1,77.9 512.0,77.2 514.5,79.4 517.4,83.1 520.3,87.5 523.3,94.1 526.2,100.7 529.2,106.6 532.1,111.0 533.7,118.2 535.9,128.5 538.1,137.3 538.8,145.3 541.0,155.6 543.2,162.9 545.4,165.8 547.6,163.6 549.4,155.6 551.3,143.8 552.8,129.9 554.2,113.8 555.7,97.6 557.2,84.4 557.9,76.4 559.4,67.6 560.8,60.3 562.6,55.6 565.0,55.1 567.5,57.3 569.7,61.7 571.9,68.3 574.1,74.2 576.3,80.8 578.5,85.9 580.7,94.7 582.1,102.0 583.6,109.4 585.1,118.2 586.6,127.0 588.0,135.8 590.2,154.1 592.4,164.4 594.6,171.7 596.8,176.9 599.3,179.1 601.2,176.1 602.7,167.3 604.2,155.6 605.6,143.8 606.4,128.5 607.9,113.8 609.3,100.6 610.8,91.8 612.3,87.6 614.5,90.3 617.4,93.2 620.3,96.9 623.3,100.6 626.2,106.4 627.5,110.2 628.2,110.1 630.4,116.8 632.6,122.6 634.8,128.5 637.1,133.6 638.5,136.6 640.0,144.7 642.2,152.0 644.4,159.4 646.6,165.2 647.3,165.9 650.3,170.3 652.5,167.3 653.9,156.4 655.4,143.2 656.9,130.0 658.4,116.8 659.8,106.5 661.3,105.8 662.8,99.9 664.2,97.0 665.7,100.7 668.6,103.6 671.6,105.8 674.5,108.0 676.0,109.4 678.2,113.8 680.4,119.7 682.6,125.6 684.8,131.4 687.0,137.3 689.2,142.5 690.7,149.1 692.1,154.2 694.3,154.2"/>
<polyline stroke="#800000" points="74.1,103.5 76.6,113.1 79.1,121.1 81.8,122.6 84.0,106.4 86.2,88.8 86.9,72.0 88.4,58.8 90.6,44.1 93.1,36.8 95.0,41.9 97.9,47.0 101.6,50.7 106.0,52.9 108.9,55.1 111.1,58.8 113.3,66.1 116.3,74.9 119.2,81.6 120.7,85.9 123.6,91.8 127.3,95.1 131.0,94.4 133.9,92.5 136.8,86.6 137.6,82.3 140.5,77.6 143.2,76.1 145.2,76.4 146.1,83.8 147.1,93.2 149.3,99.1 151.5,109.4 153.7,122.6 156.7,138.8 158.1,143.8 160.3,154.1 162.5,162.9 164.7,170.3 167.7,176.9 170.6,180.5 172.8,185.7 176.6,188.6 180.3,191.6 184.0,193.0 186.2,183.5 188.4,170.3 190.6,154.1 192.8,140.9 193.5,134.4 195.0,127.0 196.7,121.4 198.6,122.2 200.8,120.4 203.1,121.9 205.3,124.8 207.5,129.2 209.7,133.6 211.9,138.0 214.1,139.4 217.0,145.3 219.9,154.1 222.9,164.4 224.4,174.7 225.8,184.9 227.6,193.8 228.0,193.7 230.2,198.8 233.2,202.5 235.8,204.7 237.6,198.8 242.0,183.5 243.4,164.4 244.9,146.8 245.6,116.7 247.1,105.7 248.9,98.8 250.8,101.7 253.0,98.8 255.2,99.8 258.1,102.8 261.1,107.9 263.3,115.3 265.5,124.1 267.7,132.9 269.9,140.2 272.1,145.3 274.4,156.4 278.1,174.7 280.3,187.9 282.5,193.8 284.7,195.0 288.4,192.3 289.8,182.0 291.3,168.8 293.5,153.5 295.0,134.4 296.4,115.3 297.9,102.9 299.4,92.6 301.1,79.4 303.1,69.8 305.0,67.6 307.5,69.1 309.7,72.8 311.9,77.9 313.3,85.3 314.8,94.1 316.3,102.9 318.5,113.8 320.7,121.2 322.9,127.0 325.5,132.9 327.3,138.8 328.8,147.6 331.0,156.4 333.2,163.8 335.1,168.8 338.1,172.9 340.6,173.5 342.0,164.4 343.5,152.6 345.0,140.9 346.2,134.4 348.4,124.1 350.6,115.3 352.5,109.8 354.2,118.2 356.4,120.4 358.6,124.1 361.6,126.7 365.3,128.5 368.9,130.7 372.6,133.6 375.5,137.3 378.5,141.0 379.9,144.5 382.1,151.2 385.1,157.0 387.3,163.6 389.5,169.5 391.7,171.4 393.5,171.0 394.6,164.4 396.1,152.6 397.6,140.9 399.0,129.9 400.5,119.7 402.7,107.9 404.9,99.1 406.8,92.9 409.3,94.7 412.3,98.4 414.5,102.8 416.7,109.4 418.9,115.3 421.8,119.7 424.7,123.3 427.7,122.6 429.9,123.3 432.1,127.0 432.9,129.2 436.6,137.3 439.5,144.7 442.5,151.3 444.7,152.7 446.2,144.7 447.6,131.4 449.1,118.2 450.6,107.9 452.8,99.9 455.0,91.1 457.2,83.8 458.9,79.4 460.8,83.1 463.1,86.7 465.3,91.1 467.5,95.5 469.7,99.9 472.6,102.1 475.5,104.4 477.7,107.3 479.2,109.4 481.4,115.3 482.9,122.6 485.1,130.7 488.0,133.6 490.2,136.6 492.4,141.0 494.6,143.9 496.8,144.7 498.3,137.3 499.8,124.1 501.2,110.9 502.7,99.9 504.2,86.7 505.6,75.0 507.1,66.2 509.3,61.0 511.5,60.0 513.7,61.0 516.7,64.7 519.6,69.1 522.5,75.0 525.5,80.1 528.4,85.3 531.4,91.9 532.2,94.7 534.4,103.5 536.6,112.3 538.8,121.1 541.0,128.5 544.0,135.8 546.2,140.2 547.6,142.1 549.4,139.4 551.3,129.9 552.8,113.8 554.2,96.2 555.7,82.9 557.2,64.7 558.6,54.4 560.1,45.6 562.0,37.0 564.1,36.5 566.4,38.5 568.9,43.4 571.1,48.5 573.3,55.1 575.5,61.7 577.7,69.1 579.9,77.1 582.1,85.2 583.6,93.2 585.1,102.0 586.6,112.3 588.0,124.1 589.5,134.4 591.0,143.8 593.2,152.6 595.4,159.2 597.6,161.9 599.8,161.4 602.0,157.0 603.4,149.7 604.9,140.9 606.4,113.8 607.9,99.1 609.3,87.3 610.1,79.4 611.5,72.0 612.6,69.8 614.3,72.0 617.2,75.0 620.2,78.6 623.1,81.6 625.3,86.0 627.5,91.1 629.7,97.0 631.9,102.9 634.1,108.0 635.6,109.4 637.8,115.3 639.3,124.1 640.7,130.0 642.9,135.8 645.1,141.7 647.3,147.6 648.8,151.3 651.0,151.7 653.2,147.6 654.7,138.8 656.1,127.0 657.6,115.3 658.4,104.4 659.8,95.5 661.3,88.2 662.8,82.3 664.2,79.4 665.7,83.8 668.6,86.0 671.6,88.2 674.5,90.4 676.7,94.1 678.9,99.2 681.1,104.4 683.3,109.5 684.1,110.1 686.3,116.0 688.5,121.2 690.4,126.3 691.4,132.2 692.4,135.6 694.8,135.6"/>
</g>
<path d="M73.50 395.5v4.6M125.38 395.5v4.6M177.25 395.5v4.6M229.12 395.5v4.6M281.00 395.5v4.6M332.88 395.5v4.6M384.75 395.5v4.6M436.62 395.5v4.6M488.50 395.5v4.6M540.38 395.5v4.6M592.25 395.5v4.6M644.12 395.5v4.6M696.30 395.5v4.6M73.5 9.00h-5M73.5 73.42h-5M73.5 137.83h-5M73.5 202.25h-5M73.5 266.67h-5M73.5 331.08h-5M73.5 395.50h-5" stroke="#000" stroke-width="1.0" fill="none"/>
<path d="M73.5 8.3V396.0M73.0 395.5H696.8" fill="none" stroke="#000" stroke-width="1.0"/>
<path d="M696.3 8.3V396.0M73.0 8.8H696.8" fill="none" stroke="#000" stroke-width="1.1"/>
<g font-size="18.06px">
<text x="73.50" y="418.9" text-anchor="middle">03</text>
<text x="125.38" y="418.9" text-anchor="middle">04</text>
<text x="177.25" y="418.9" text-anchor="middle">05</text>
<text x="229.12" y="418.9" text-anchor="middle">06</text>
<text x="281.00" y="418.9" text-anchor="middle">07</text>
<text x="332.88" y="418.9" text-anchor="middle">08</text>
<text x="384.75" y="418.9" text-anchor="middle">09</text>
<text x="436.62" y="418.9" text-anchor="middle">10</text>
<text x="488.50" y="418.9" text-anchor="middle">11</text>
<text x="540.38" y="418.9" text-anchor="middle">12</text>
<text x="592.25" y="418.9" text-anchor="middle">13</text>
<text x="644.12" y="418.9" text-anchor="middle">14</text>
<text x="696.00" y="418.9" text-anchor="middle">15</text>
<text x="63.65" y="15.85" text-anchor="end">20</text>
<text x="63.65" y="80.27" text-anchor="end">15</text>
<text x="63.65" y="144.68" text-anchor="end">10</text>
<text x="63.65" y="209.10" text-anchor="end">5</text>
<text x="63.65" y="273.52" text-anchor="end">0</text>
<text x="63.65" y="337.93" text-anchor="end">−5</text>
<text x="63.65" y="402.35" text-anchor="end">−10</text>
<text transform="translate(15.9 202.8) rotate(-90)" text-anchor="middle">T, °C</text>
</g>
<rect x="103.5" y="343.5" width="585.8" height="44.7" rx="2.8" ry="2.8" fill="#fff" fill-opacity="0.8" stroke="#ccc" stroke-opacity="0.8" stroke-width="1"/>
<g font-size="13.89px">
<path d="M108.1 354.6h29.6" stroke="#000080" stroke-width="1.8" fill="none"/>
<text x="148.3" y="359.7">775hPa</text>
<path d="M108.1 375.2h29.6" stroke="#0000ff" stroke-width="1.8" fill="none"/>
<text x="148.3" y="380.3">800hPa</text>
<path d="M226.8 354.6h29.6" stroke="#0060ff" stroke-width="1.8" fill="none"/>
<text x="267.1" y="359.7">825hPa</text>
<path d="M226.8 375.2h29.6" stroke="#00d4ff" stroke-width="1.8" fill="none"/>
<text x="267.1" y="380.3">850hPa</text>
<path d="M345.6 354.6h29.6" stroke="#4dffaa" stroke-width="1.8" fill="none"/>
<text x="385.8" y="359.7">875hPa</text>
<path d="M345.6 375.2h29.6" stroke="#aaff4d" stroke-width="1.8" fill="none"/>
<text x="385.8" y="380.3">900hPa</text>
<path d="M464.4 354.6h29.6" stroke="#ffe600" stroke-width="1.8" fill="none"/>
<text x="504.6" y="359.7">925hPa</text>
<path d="M464.4 375.2h29.6" stroke="#ff7a00" stroke-width="1.8" fill="none"/>
<text x="504.6" y="380.3">950hPa</text>
<path d="M583.1 354.6h29.6" stroke="#ff1300" stroke-width="1.8" fill="none"/>
<text x="623.3" y="359.7">975hPa</text>
<path d="M583.1 375.2h29.6" stroke="#800000" stroke-width="1.8" fill="none"/>
<text x="623.3" y="380.3">1000hPa</text>
</g>
</svg></body></html>
